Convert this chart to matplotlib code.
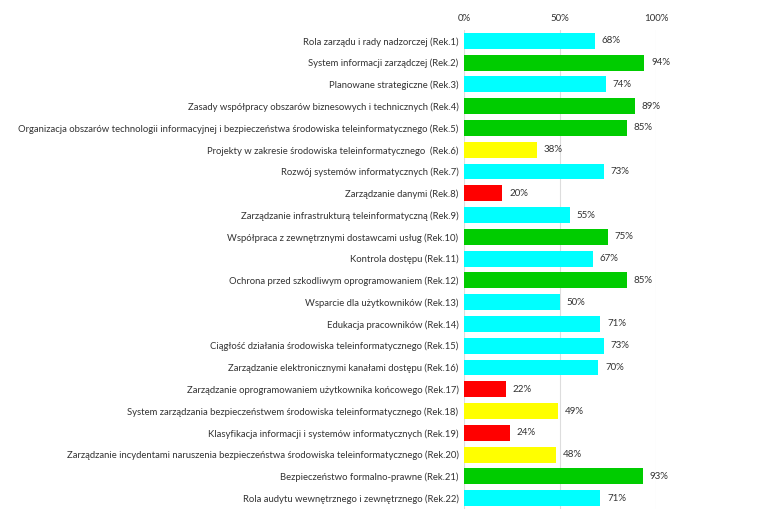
import matplotlib
matplotlib.use("Agg")
import matplotlib.pyplot as plt

labels = [
    "Rola zarządu i rady nadzorczej (Rek.1)",
    "System informacji zarządczej (Rek.2)",
    "Planowane strategiczne (Rek.3)",
    "Zasady współpracy obszarów biznesowych i technicznych (Rek.4)",
    "Organizacja obszarów technologii informacyjnej i bezpieczeństwa środowiska teleinformatycznego (Rek.5)",
    "Projekty w zakresie środowiska teleinformatycznego  (Rek.6)",
    "Rozwój systemów informatycznych (Rek.7)",
    "Zarządzanie danymi (Rek.8)",
    "Zarządzanie infrastrukturą teleinformatyczną (Rek.9)",
    "Współpraca z zewnętrznymi dostawcami usług (Rek.10)",
    "Kontrola dostępu (Rek.11)",
    "Ochrona przed szkodliwym oprogramowaniem (Rek.12)",
    "Wsparcie dla użytkowników (Rek.13)",
    "Edukacja pracowników (Rek.14)",
    "Ciągłość działania środowiska teleinformatycznego (Rek.15)",
    "Zarządzanie elektronicznymi kanałami dostępu (Rek.16)",
    "Zarządzanie oprogramowaniem użytkownika końcowego (Rek.17)",
    "System zarządzania bezpieczeństwem środowiska teleinformatycznego (Rek.18)",
    "Klasyfikacja informacji i systemów informatycznych (Rek.19)",
    "Zarządzanie incydentami naruszenia bezpieczeństwa środowiska teleinformatycznego (Rek.20)",
    "Bezpieczeństwo formalno-prawne (Rek.21)",
    "Rola audytu wewnętrznego i zewnętrznego (Rek.22)",
]
values = [68, 94, 74, 89, 85, 38, 73, 20, 55, 75, 67, 85, 50, 71, 73, 70, 22, 49, 24, 48, 93, 71]
levels = ["c", "g", "c", "g", "g", "y", "c", "r", "c", "g", "c", "g", "c", "c", "c", "c", "r", "y", "r", "y", "g", "c"]
palette = {"c": "#00FFFF", "g": "#00CC00", "y": "#FFFF00", "r": "#FF0000"}

plt.rcParams['font.family'] = ['Lato', 'DejaVu Sans']

fig = plt.figure(figsize=(7.62, 5.12), dpi=100)
ax = fig.add_axes([464 / 762, 3 / 512, 192 / 762, 479 / 512])

pos = list(range(len(labels)))
ax.barh(pos, values, height=0.73, color=[palette[l] for l in levels], zorder=2)
for p, v in zip(pos, values):
    ax.text(v + 3.5, p, f"{v}%", va="center", ha="left", fontsize=7, color="#333333")

ax.set_yticks(pos)
ax.set_yticklabels(labels, fontsize=6.85, color="#333333")
ax.set_ylim(len(labels) - 0.5, -0.5)
ax.set_xlim(0, 100)
ax.set_xticks([0, 50, 100])
ax.set_xticklabels(["0%", "50%", "100%"], fontsize=7, color="#333333")
ax.xaxis.tick_top()
ax.tick_params(axis="y", length=0, pad=4)
ax.tick_params(axis="x", length=0, pad=5)
ax.grid(axis="x", color="#dddddd", linewidth=0.8, zorder=0)
for s in ax.spines.values():
    s.set_visible(False)

fig.savefig("out.png", dpi=100)
